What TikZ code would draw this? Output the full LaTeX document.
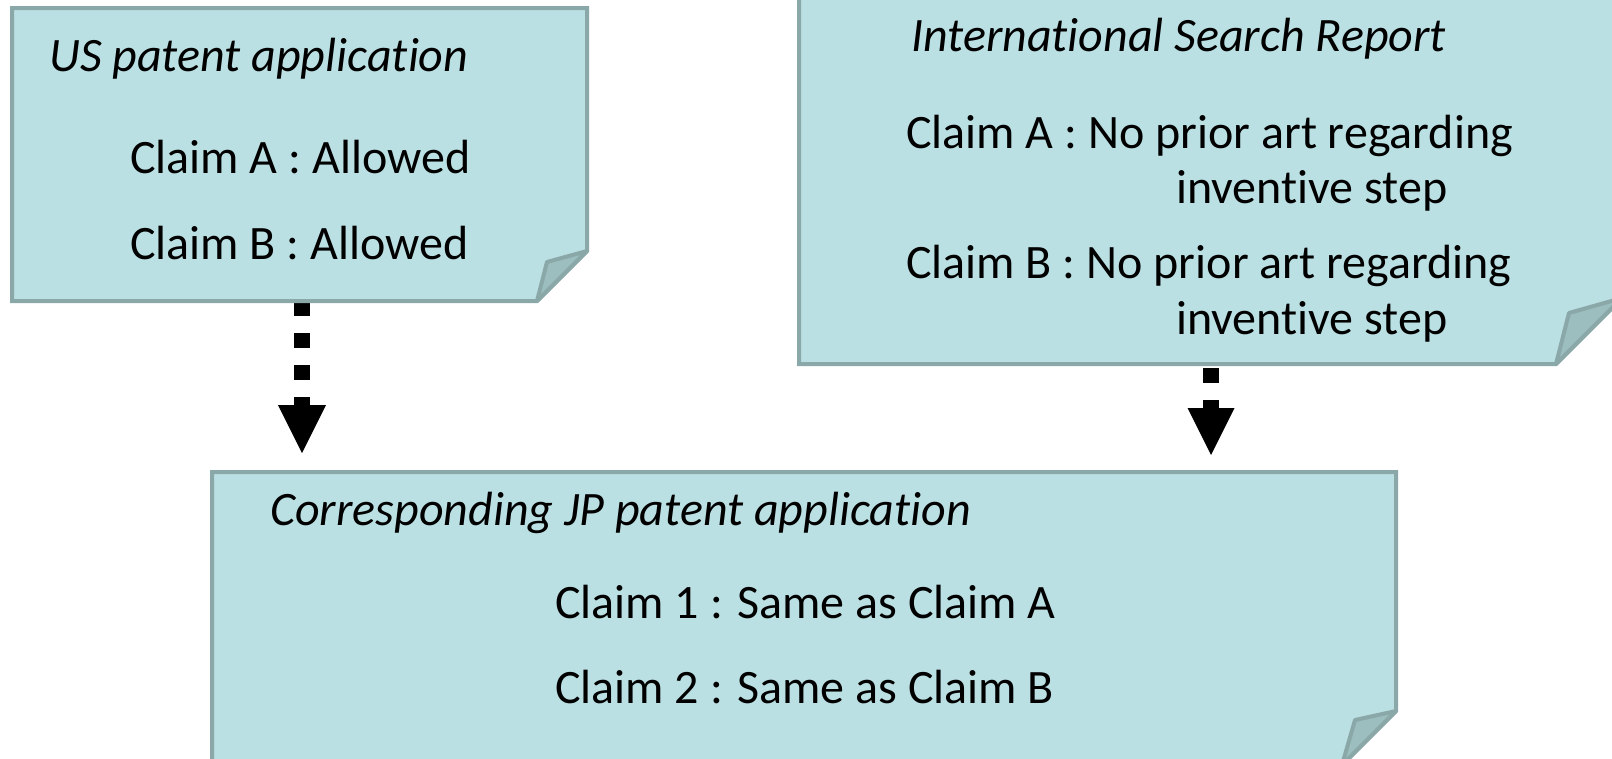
\documentclass[tikz,border=0pt]{standalone}
\usepackage{fontspec}
\setmainfont{Carlito}[Ligatures=NoCommon]
\usetikzlibrary{arrows.meta}
\newcommand\tibrk{\kern0pt }
\definecolor{boxfill}{RGB}{187,224,227}
\definecolor{boxline}{RGB}{138,168,168}
\definecolor{foldfill}{RGB}{156,190,190}
\tikzset{
  notebox/.style={fill=boxfill, draw=boxline, line width=4pt, line join=miter},
  foldpart/.style={fill=foldfill, draw=boxline, line width=4pt, line join=round},
  txt/.style={anchor=base west, inner sep=0pt, font=\fontsize{48}{58}\selectfont},
  ttl/.style={txt, font=\fontsize{48}{58}\selectfont\itshape},
  conn/.style={line width=16pt, dash pattern=on 15pt off 17pt, black},
}
\begin{document}
\begin{tikzpicture}[x=1pt,y=-1pt]
\useasboundingbox (0,0) rectangle (1612,758);
\clip (0,0) rectangle (1612,758);
% connector end points
\coordinate (a1s) at (302,301);
\coordinate (a1e) at (302,453);
\coordinate (a2s) at (1211,368);
\coordinate (a2e) at (1211,455);
% connectors
\draw[conn, -{Triangle[width=48pt,length=48pt,line width=0pt]}] (a1s) -- (a1e);
\draw[conn, -{Triangle[width=47pt,length=47pt,line width=0pt]}] (a2s) -- (a2e);
% US box
\draw[notebox] (12,8) -- (587,8) -- (587,251) -- (537,301) -- (12,301) -- cycle;
\draw[foldpart] (537,301) -- (547,262) -- (587,251) -- cycle;
% ISR box
\draw[notebox] (799,-20) -- (1622,-20) -- (1622,298) -- (1556,364) -- (799,364) -- cycle;
\draw[foldpart] (1556,364) -- (1569,313) -- (1622,298) -- cycle;
% JP box
\draw[notebox] (212,472) -- (1396,472) -- (1396,711) -- (1342,765) -- (212,765) -- cycle;
\draw[foldpart] (1342,765) -- (1355,720) -- (1396,711) -- cycle;
% texts
\node[ttl] (ust) at (49,71) {US patent applicat\tibrk ion};
\node[txt] (usa) at (130,173) {Claim A : Allowed};
\node[txt] (usb) at (130,259) {Claim B : Allowed};
\node[ttl] (isrt) at (911,51) {Internat\tibrk ional Search Report};
\node[txt] (isra) at (906,148) {Claim A : No prior art regarding};
\node[txt] (isra2) at (1176,203) {invent\tibrk ive step};
\node[txt] (isrb) at (906,278) {Claim B : No prior art regarding};
\node[txt] (isrb2) at (1176,334) {invent\tibrk ive step};
\node[ttl] (jpt) at (270,525) {Corresponding JP patent applicat\tibrk ion};
\node[txt] (jp1) at (555,618) {Claim 1 : Same as Claim A};
\node[txt] (jp2) at (555,703) {Claim 2 : Same as Claim B};
\end{tikzpicture}
\end{document}
